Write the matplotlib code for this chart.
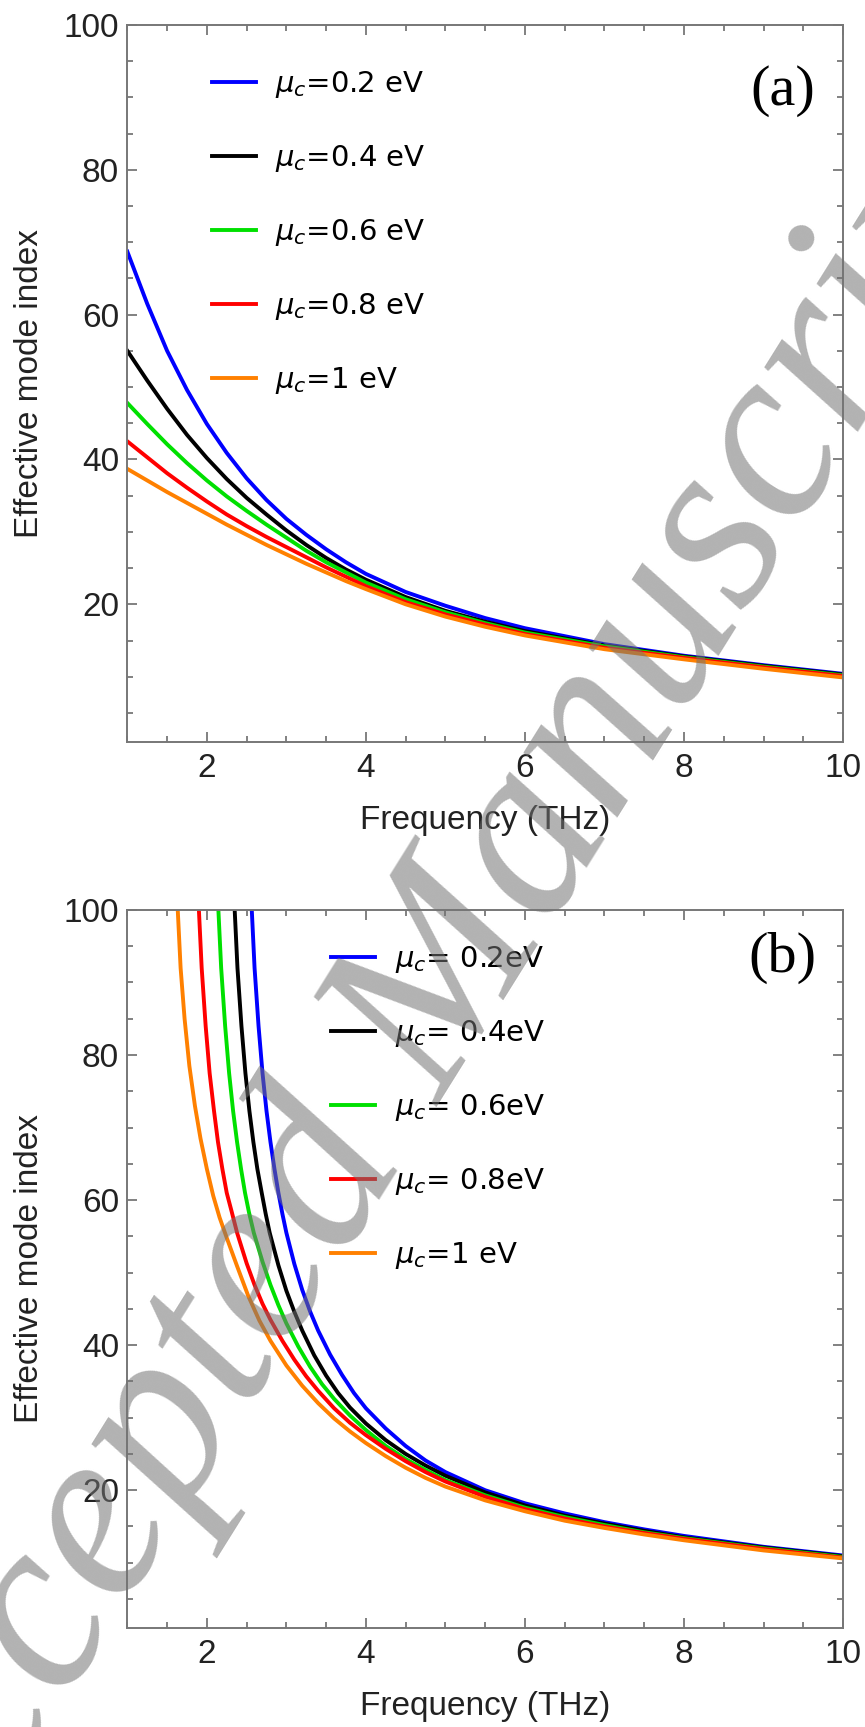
import numpy as np
import matplotlib
matplotlib.use('Agg')
import matplotlib.pyplot as plt
from matplotlib.ticker import MultipleLocator

plt.rcParams['font.family'] = ['Liberation Sans', 'DejaVu Sans']
plt.rcParams['mathtext.fontset'] = 'custom'
plt.rcParams['mathtext.it'] = 'DejaVu Sans:italic'
plt.rcParams['mathtext.rm'] = 'DejaVu Sans'

colors = ['#0000ff', '#000000', '#00e000', '#ff0000', '#ff8000']

# ---- panel (a): effective mode index vs frequency ----
freq_a = [1, 1.25, 1.5, 1.75, 2, 2.25, 2.5, 2.75, 3, 3.25, 3.5, 3.75, 4,
          4.5, 5, 5.5, 6, 7, 8, 9, 10]
neff_a_02 = [68.7, 61.5, 55.0, 49.6, 44.9, 40.9, 37.4, 34.4, 31.8, 29.6, 27.6, 25.8, 24.2,
             21.7, 19.8, 18.1, 16.7, 14.5, 12.9, 11.6, 10.4]
neff_a_04 = [55.0, 50.9, 47.0, 43.4, 40.2, 37.3, 34.7, 32.4, 30.2, 28.2, 26.4, 24.8, 23.4,
             21.0, 19.1, 17.6, 16.3, 14.3, 12.8, 11.5, 10.3]
neff_a_06 = [47.8, 44.9, 42.1, 39.5, 37.1, 34.9, 32.9, 31.0, 29.2, 27.4, 25.8, 24.4, 23.0,
             20.7, 18.9, 17.4, 16.1, 14.2, 12.7, 11.4, 10.2]
neff_a_08 = [42.5, 40.3, 38.1, 36.1, 34.2, 32.4, 30.8, 29.3, 27.9, 26.5, 25.1, 23.8, 22.5,
             20.3, 18.6, 17.2, 15.9, 14.0, 12.6, 11.3, 10.1]
neff_a_10 = [38.7, 37.1, 35.5, 34.0, 32.5, 31.0, 29.6, 28.2, 26.9, 25.6, 24.4, 23.2, 22.1,
             20.0, 18.3, 16.9, 15.7, 13.8, 12.4, 11.1, 9.9]
labels_a = ['$\\mu_c$=0.2 eV', '$\\mu_c$=0.4 eV', '$\\mu_c$=0.6 eV', '$\\mu_c$=0.8 eV', '$\\mu_c$=1 eV']

# ---- panel (b) ----
freq_b_02 = [2.565, 2.6, 2.65, 2.7, 2.75, 2.8, 2.85, 2.9, 2.95, 3.0, 3.1, 3.2, 3.3, 3.4, 3.55,
             3.7, 3.85, 4.0, 4.25, 4.5, 4.75, 5, 5.5, 6, 6.5, 7, 7.5, 8, 9, 10]
neff_b_02 = [100, 92.0, 84.0, 77.5, 72.3, 68.0, 64.3, 61.0, 58.1, 55.5, 51.2, 47.6, 44.6, 42.0, 38.7,
             35.9, 33.4, 31.3, 28.5, 26.1, 24.1, 22.5, 20.0, 18.2, 16.8, 15.6, 14.6, 13.7, 12.2, 11.0]
freq_b_04 = [2.35, 2.385, 2.435, 2.485, 2.535, 2.585, 2.635, 2.69, 2.74, 2.79, 2.9, 3.0, 3.1, 3.2,
             3.35, 3.5, 3.65, 3.8, 4.0, 4.25, 4.5, 4.75, 5, 5.5, 6, 6.5, 7, 7.5, 8, 9, 10]
neff_b_04 = [100, 92.0, 84.0, 77.5, 72.3, 68.0, 64.3, 61.0, 58.1, 55.5, 51.0, 47.5, 44.6, 42.0,
             38.6, 35.8, 33.4, 31.4, 29.2, 26.9, 25.0, 23.4, 22.0, 19.7, 17.9, 16.5, 15.4, 14.4, 13.5, 12.1, 10.9]
freq_b_06 = [2.145, 2.18, 2.23, 2.28, 2.33, 2.38, 2.43, 2.48, 2.53, 2.59, 2.7, 2.8, 2.9, 3.0,
             3.15, 3.3, 3.45, 3.6, 3.8, 4.0, 4.25, 4.5, 4.75, 5, 5.5, 6, 6.5, 7, 7.5, 8, 9, 10]
neff_b_06 = [100, 92.0, 84.0, 77.5, 72.3, 68.0, 64.3, 61.0, 58.3, 55.5, 51.5, 48.3, 45.5, 43.0,
             39.8, 37.0, 34.6, 32.6, 30.3, 28.3, 26.1, 24.3, 22.8, 21.4, 19.3, 17.6, 16.3, 15.2, 14.2, 13.4, 12.0, 10.8]
freq_b_08 = [1.90, 1.935, 1.985, 2.035, 2.09, 2.14, 2.195, 2.25, 2.31, 2.38, 2.5, 2.6, 2.7, 2.8,
             2.95, 3.1, 3.25, 3.4, 3.6, 3.8, 4.0, 4.25, 4.5, 4.75, 5, 5.5, 6, 6.5, 7, 7.5, 8, 9, 10]
neff_b_08 = [100, 92.0, 84.0, 77.5, 72.3, 68.0, 64.3, 61.0, 58.5, 55.5, 51.3, 48.3, 45.7, 43.5,
             40.6, 38.0, 35.7, 33.7, 31.3, 29.3, 27.6, 25.7, 24.0, 22.5, 21.2, 19.1, 17.4, 16.1, 15.0, 14.1, 13.3, 11.9, 10.7]
freq_b_10 = [1.634, 1.67, 1.72, 1.78, 1.85, 1.92, 2.0, 2.08, 2.16, 2.25, 2.38, 2.52, 2.66, 2.8,
             3.0, 3.2, 3.4, 3.6, 3.8, 4.0, 4.25, 4.5, 4.75, 5, 5.5, 6, 6.5, 7, 7.5, 8, 9, 10]
neff_b_10 = [100, 92.0, 85.0, 78.5, 73.0, 68.5, 64.3, 60.6, 57.6, 54.8, 50.9, 46.8, 43.4, 40.6,
             37.2, 34.4, 32.0, 29.9, 28.1, 26.5, 24.7, 23.1, 21.7, 20.5, 18.6, 17.1, 15.8, 14.8, 13.9, 13.1, 11.7, 10.6]
labels_b = ['$\\mu_c$= 0.2eV', '$\\mu_c$= 0.4eV', '$\\mu_c$= 0.6eV', '$\\mu_c$= 0.8eV', '$\\mu_c$=1 eV']

x_ticks = [2, 4, 6, 8, 10]
y_ticks = [20, 40, 60, 80, 100]


def style_axes(ax):
    ax.set_xlim(1, 10)
    ax.set_ylim(1, 100)
    ax.set_xticks(x_ticks)
    ax.set_yticks(y_ticks)
    ax.xaxis.set_minor_locator(MultipleLocator(0.5))
    ax.yaxis.set_minor_locator(MultipleLocator(5))
    ax.tick_params(which='both', direction='in', top=True, right=True,
                   color='#777777', width=1.3)
    ax.tick_params(which='major', length=7.5, labelsize=24, labelcolor='#222222')
    ax.tick_params(axis='x', which='major', pad=8)
    ax.tick_params(axis='y', which='major', pad=6)
    ax.tick_params(which='minor', length=4.5)
    for s in ax.spines.values():
        s.set_color('#777777')
        s.set_linewidth(1.4)
    ax.set_xlabel('Frequency (THz)', fontsize=24, color='#222222', va='center')
    ax.xaxis.set_label_coords(0.5, -0.109)
    ax.set_ylabel('Effective mode index', fontsize=24, color='#222222', va='center')
    ax.yaxis.set_label_coords(-0.136, 0.5)


fig = plt.figure(figsize=(8.65, 17.27), dpi=100)
ax1 = fig.add_axes([0.1472, 0.5704, 0.8274, 0.4152])
ax2 = fig.add_axes([0.1472, 0.0573, 0.8274, 0.4158])

series_a = [neff_a_02, neff_a_04, neff_a_06, neff_a_08, neff_a_10]
for vals, c, lab in zip(series_a, colors, labels_a):
    ax1.plot(freq_a, vals, color=c, lw=2.8, label=lab)

series_b = [(freq_b_02, neff_b_02), (freq_b_04, neff_b_04), (freq_b_06, neff_b_06),
            (freq_b_08, neff_b_08), (freq_b_10, neff_b_10)]
for (fx, vals), c, lab in zip(series_b, colors, labels_b):
    ax2.plot(fx, vals, color=c, lw=2.8, label=lab)

for ax in (ax1, ax2):
    style_axes(ax)

leg_kw = dict(frameon=False, loc='upper left', borderaxespad=0, borderpad=0,
              prop={'family': 'DejaVu Sans', 'size': 21},
              handlelength=1.5, handletextpad=0.68, labelspacing=1.47)
ax1.legend(bbox_to_anchor=(0.118, 0.938), **leg_kw)
ax2.legend(bbox_to_anchor=(0.285, 0.952), **leg_kw)

ax1.text(0.916, 0.908, '(a)', transform=ax1.transAxes, ha='center', va='center',
         fontsize=42, family='Liberation Serif')
ax2.text(0.916, 0.933, '(b)', transform=ax2.transAxes, ha='center', va='center',
         fontsize=42, family='Liberation Serif')

# watermark over the whole page
fig.text(440 / 865, 1 - 1010 / 1727, 'Accepted Manuscript', fontsize=178,
         family='Liberation Serif', style='italic', color='0.45', alpha=0.55,
         rotation=58, ha='center', va='center', rotation_mode='anchor')

fig.savefig('out.png', dpi=100)
